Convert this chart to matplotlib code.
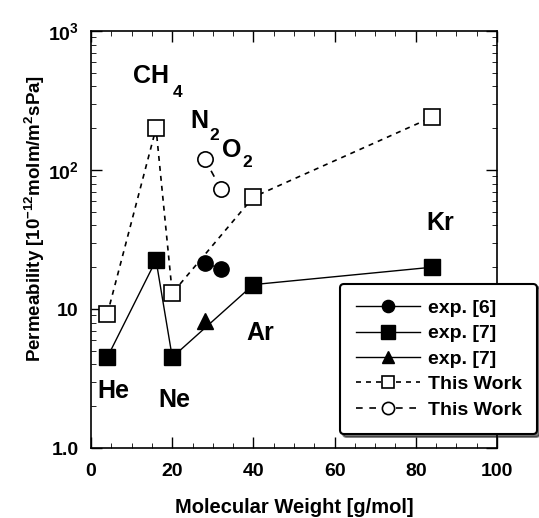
import numpy as np
import matplotlib
matplotlib.use("Agg")
import matplotlib.pyplot as plt
from matplotlib.ticker import FixedLocator, LogLocator, MultipleLocator, NullFormatter

plt.rcParams['font.family'] = ['Liberation Sans', 'DejaVu Sans']
plt.rcParams['font.weight'] = 'bold'
plt.rcParams['mathtext.fontset'] = 'custom'
plt.rcParams['mathtext.rm'] = 'Liberation Sans:bold'
plt.rcParams['mathtext.bf'] = 'Liberation Sans:bold'
plt.rcParams['mathtext.it'] = 'Liberation Sans:bold'

# exp. [6] (N2, O2)
exp6_mw = [28, 32]
exp6_perm = [21.5, 19.5]

# exp. [7] squares (He, CH4, Ne, Ar, Kr)
exp7_mw = [4, 16, 20, 40, 84]
exp7_perm = [4.5, 22.5, 4.5, 15.0, 20.0]

# exp. [7] triangle (N2)
exp7t_mw = [28]
exp7t_perm = [8.2]

# This work squares
tw_sq_mw = [4, 16, 20, 40, 84]
tw_sq_perm = [9.2, 200, 13, 64, 240]

# This work circles (N2, O2)
tw_ci_mw = [28, 32]
tw_ci_perm = [120, 73]

# gas labels: text, x, y (data coords, baseline)
gas_labels = [
    ('CH', 10.3, 423),
    ('N', 24.4, 200),
    ('O', 32.3, 124),
    ('He', 1.5, 2.3),
    ('Ne', 16.5, 1.97),
    ('Ar', 38.2, 6.0),
    ('Kr', 82.5, 37),
]
# subscripts: text, x, y
gas_subs = [
    ('4', 20.0, 335),
    ('2', 29.1, 164),
    ('2', 37.2, 105),
]

y_ticks = [1, 10, 100, 1000]
y_ticklabels = ['1.0', '10', r'10$^2$', r'10$^3$']

fig = plt.figure(figsize=(5.39, 5.18), dpi=100)
ax = fig.add_axes([0.169, 0.135, 0.753, 0.805])

ax.plot(exp6_mw, exp6_perm, color='black', lw=1.0, marker='o', ms=11,
        mfc='black', mec='black', label='exp. [6]')
ax.plot(exp7_mw, exp7_perm, color='black', lw=1.0, marker='s', ms=12,
        mfc='black', mec='black', label='exp. [7]')
ax.plot(exp7t_mw, exp7t_perm, color='black', lw=1.0, marker='^', ms=11,
        mfc='black', mec='black', label='exp. [7]')
ax.plot(tw_sq_mw, tw_sq_perm, color='black', lw=1.2, ls=(0, (3, 3)),
        marker='s', ms=11.5, mfc='white', mec='black', mew=1.2, label='This Work')
ax.plot(tw_ci_mw, tw_ci_perm, color='black', lw=1.2, ls=(0, (4, 4)),
        marker='o', ms=11, mfc='white', mec='black', mew=1.2, label='This Work')

for txt, x, y in gas_labels:
    ax.text(x, y, txt, fontsize=18, fontweight='bold', ha='left', va='baseline')
for txt, x, y in gas_subs:
    ax.text(x, y, txt, fontsize=12.5, fontweight='bold', ha='left', va='baseline')

ax.set_yscale('log')
ax.set_xlim(0, 100)
ax.set_ylim(1, 1000)
ax.xaxis.set_major_locator(MultipleLocator(20))
ax.xaxis.set_minor_locator(MultipleLocator(5))
ax.yaxis.set_major_locator(FixedLocator(y_ticks))
ax.set_yticklabels(y_ticklabels)
ax.yaxis.set_minor_locator(LogLocator(base=10, subs=np.arange(2, 10)))
ax.yaxis.set_minor_formatter(NullFormatter())

ax.tick_params(which='both', direction='in', top=True, right=True, labelsize=14)
ax.tick_params(which='major', length=8, width=1.0)
ax.tick_params(which='minor', length=3.5, width=0.6)
ax.tick_params(axis='x', which='major', pad=11)
ax.tick_params(axis='y', which='major', pad=9)
for lab in ax.get_xticklabels() + ax.get_yticklabels():
    lab.set_fontweight('bold')
for sp in ax.spines.values():
    sp.set_linewidth(1.2)

ax.set_xlabel('Molecular Weight [g/mol]', fontsize=14.5, fontweight='bold', labelpad=13)
ax.set_ylabel(r'Permeability [10$^{-12}$molm/m$^2$sPa]', fontsize=13.5,
              fontweight='bold')
ax.yaxis.set_label_coords(-0.108, 0.55)

leg = ax.legend(loc='upper left', bbox_to_anchor=(0.631, 0.452),
                bbox_transform=fig.transFigure, fontsize=14, frameon=True,
                fancybox=True, shadow={'color': 'black'}, handlelength=3.3,
                labelspacing=0.4, handletextpad=0.4, borderpad=0.8,
                markerscale=0.8, borderaxespad=0)
leg.get_frame().set_edgecolor('black')
leg.get_frame().set_linewidth(1.5)
leg.get_frame().set_alpha(1)

fig.savefig('out.png', dpi=100)
